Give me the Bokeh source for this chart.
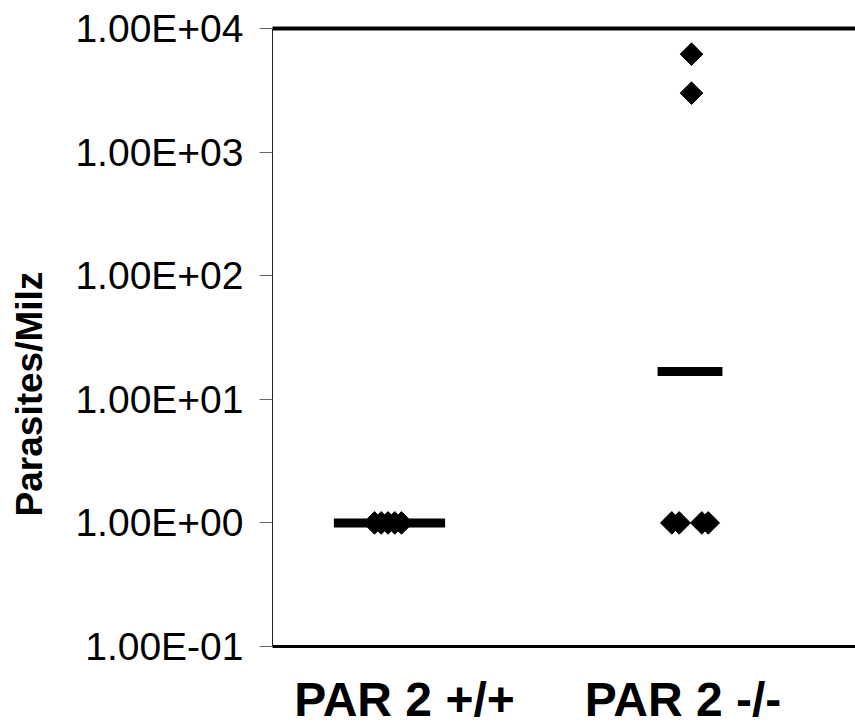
import math
from bokeh.plotting import figure
from bokeh.models import Range1d, LogAxis, LinearAxis, FixedTicker, ColumnDataSource
from bokeh.embed import file_html
from bokeh.resources import INLINE

# ---- data ----
categories = ["PAR 2 +/+", "PAR 2 -/-"]
y_title = "Parasites/Milz"
y_ticks = [0.1, 1, 10, 100, 1000, 10000]
y_tick_labels = ["1.00E-01", "1.00E+00", "1.00E+01", "1.00E+02", "1.00E+03", "1.00E+04"]

wt_values = [1, 1, 1, 1, 1]            # PAR 2 +/+
ko_values = [6200, 3000, 1, 1, 1, 1]   # PAR 2 -/-
medians = [1.0, 16.8]

# ---- display offsets (horizontal spread of overlapping points) ----
wt_dodge = [-0.050, -0.0275, -0.005, 0.0175, 0.040]
ko_dodge = [0.005, 0.005, -0.0606, -0.036, 0.0393, 0.0606]
bar_half = [0.185, 0.108]
label_shift = [0.05, -0.023]

pos = [1, 2]
xs = [pos[0] + d for d in wt_dodge] + [pos[1] + d for d in ko_dodge]
ys = wt_values + ko_values
pts = ColumnDataSource(dict(x=xs, y=ys))
bars = ColumnDataSource(dict(
    x0=[p_ - h for p_, h in zip(pos, bar_half)],
    x1=[p_ + h for p_, h in zip(pos, bar_half)],
    y=medians,
))

p = figure(width=855, height=728,
           x_range=Range1d(0.6107, 2.5507), y_range=Range1d(0.1, 10000),
           y_axis_type="log", x_axis_location=None, y_axis_location=None,
           toolbar_location=None, output_backend="svg",
           min_border_left=272, min_border_right=0, min_border_top=28, min_border_bottom=81,
           outline_line_color=None, background_fill_color="white", border_fill_color="white")
p.grid.visible = False

# the title sits below the centre of the axis: pad its upper end with no-break spaces
left = LogAxis(ticker=FixedTicker(ticks=y_ticks),
               major_label_overrides={t: l for t, l in zip(y_ticks, y_tick_labels)},
               axis_label=y_title + "\u00a0" * 11,
               axis_label_standoff=22,
               axis_label_text_font="Liberation Sans", axis_label_text_font_style="bold",
               axis_label_text_font_size="37px", axis_label_text_color="black",
               major_tick_out=13, major_tick_in=0, minor_tick_out=0, minor_tick_in=0,
               major_label_standoff=16,
               axis_line_width=1, axis_line_color="#222222",
               major_tick_line_color="#666666", major_tick_line_width=1,
               major_label_text_font="Liberation Sans", major_label_text_font_size="39px",
               major_label_text_color="black")
p.add_layout(left, "left")

top = LinearAxis(ticker=FixedTicker(ticks=[]), axis_line_width=4, axis_line_color="black",
                 major_tick_out=0, major_tick_in=0, minor_tick_out=0, minor_tick_in=0)
p.add_layout(top, "above")

tick_pos = [p_ + s for p_, s in zip(pos, label_shift)]
bottom = LinearAxis(ticker=FixedTicker(ticks=tick_pos),
                    major_label_overrides={t: c for t, c in zip(tick_pos, categories)},
                    axis_line_width=3, axis_line_color="black",
                    major_tick_out=0, major_tick_in=0, minor_tick_out=0, minor_tick_in=0,
                    major_label_standoff=26,
                    major_label_text_font="Liberation Sans", major_label_text_font_style="bold",
                    major_label_text_font_size="48px", major_label_text_color="black")
p.add_layout(bottom, "below")

p.segment(x0="x0", y0="y", x1="x1", y1="y", source=bars, line_width=9,
          line_color="black", line_cap="butt")
p.scatter(x="x", y="y", source=pts, marker="square", size=16, angle=math.pi / 4,
          fill_color="black", line_color="black")

open("out.html", "w").write(file_html(p, INLINE))
